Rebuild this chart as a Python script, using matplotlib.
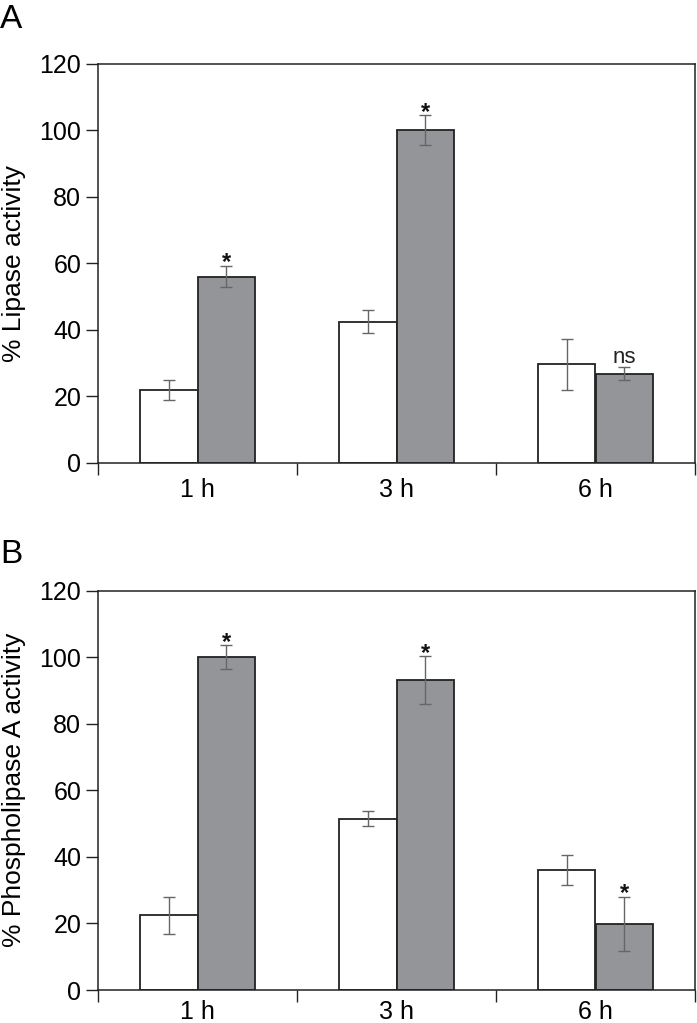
import matplotlib
matplotlib.use("Agg")
import matplotlib.pyplot as plt
import numpy as np

plt.rcParams['font.family'] = ['Liberation Sans', 'DejaVu Sans']

groups = ["1 h", "3 h", "6 h"]
lipase_ctrl = [22, 42.5, 29.6]
lipase_ctrl_err = [3, 3.5, 7.6]
lipase_trt = [56, 100, 26.8]
lipase_trt_err = [3.2, 4.5, 1.9]
lipase_sig = ["*", "*", "ns"]

pla_ctrl = [22.4, 51.5, 36.1]
pla_ctrl_err = [5.6, 2.3, 4.6]
pla_trt = [100, 93, 19.8]
pla_trt_err = [3.5, 7.2, 8.2]
pla_sig = ["*", "*", "*"]

panels = [
    ("A", "% Lipase activity", lipase_ctrl, lipase_ctrl_err, lipase_trt, lipase_trt_err, lipase_sig),
    ("B", "% Phospholipase A activity", pla_ctrl, pla_ctrl_err, pla_trt, pla_trt_err, pla_sig),
]

W, H = 697, 1023
fig = plt.figure(figsize=(W / 100, H / 100), dpi=100)

# axes boxes in pixel coords: (left, top, right, bottom)
boxes = [(98, 63.5, 695, 463), (98, 590.5, 695, 990)]
letter_base = [28, 563]
xlabel_pads = [11, 7]

dark = "#222222"
gray_fill = "#939598"
err_col = "#666666"
bw = 0.287

for (letter, ylabel, c, ce, t, te, sig), (l, tp, r, b), lb, xpad in zip(panels, boxes, letter_base, xlabel_pads):
    ax = fig.add_axes([l / W, 1 - b / H, (r - l) / W, (b - tp) / H])
    x = np.arange(len(groups)) + 0.5
    ax.bar(x - bw / 2, c, width=bw, color="white", edgecolor=dark, linewidth=1.3, zorder=2)
    ax.bar(x + bw / 2, t, width=bw, color=gray_fill, edgecolor=dark, linewidth=1.3, zorder=2)
    for xs, vals, errs in ((x - bw / 2, c, ce), (x + bw / 2, t, te)):
        eb = ax.errorbar(xs, vals, yerr=errs, fmt="none", ecolor=err_col, elinewidth=1.0,
                         capsize=4, capthick=1.0, zorder=3)
        for cap in eb[1]:
            cap.set_color("#333333")
    for xi, ti, tei, s in zip(x + bw / 2, t, te, sig):
        if s == "*":
            ax.annotate("*", (xi, ti + tei), xytext=(0, -2.5), textcoords="offset points",
                        ha="center", va="baseline", fontsize=17, fontweight="bold",
                        color="#111111", zorder=4)
        else:
            ax.annotate(s, (xi, ti + tei), xytext=(0, 3), textcoords="offset points",
                        ha="center", va="baseline", fontsize=16,
                        color="#222222", zorder=4)

    ax.set_xlim(0, 3)
    ax.set_ylim(0, 120)
    ax.set_yticks(np.arange(0, 121, 20))
    ax.set_xticks([0, 1, 2, 3])
    ax.set_xticklabels([])
    ax.set_xticks(x, minor=True)
    ax.set_xticklabels(groups, minor=True, fontsize=18)
    ax.tick_params(axis="x", which="minor", length=0, pad=xpad)
    ax.tick_params(axis="x", which="major", direction="out", length=8.5, width=1.0, color=dark)
    ax.tick_params(axis="y", direction="out", length=8.5, width=1.0, color=dark,
                   labelsize=18, pad=3.5)
    for sp in ax.spines.values():
        sp.set_linewidth(1.1)
        sp.set_color(dark)
    ax.set_ylabel(ylabel, fontsize=19)
    ax.yaxis.set_label_coords((26 - l) / (r - l), 0.5)
    fig.text(0 / W, 1 - lb / H, letter, fontsize=24, ha="left", va="baseline")

fig.savefig("out.png", dpi=100)
